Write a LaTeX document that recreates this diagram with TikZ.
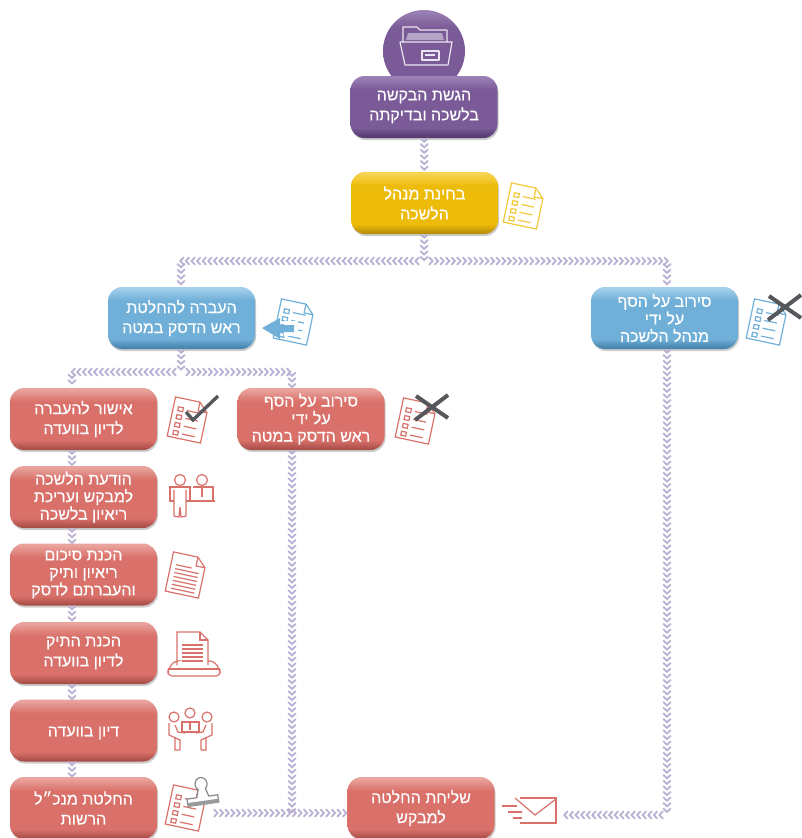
\documentclass[tikz,border=0pt]{standalone}
\usepackage{fontspec}
\newfontfamily\hebfont[Script=Hebrew,FakeBold=0.35]{Liberation Sans}
\TeXXeTstate=1
\usetikzlibrary{decorations.markings,shadows}
\newcommand{\rl}[1]{\beginR #1\endR}
\newcommand{\bevel}[4]{\pgfdeclareverticalshading{#1}{100bp}{color(0bp)=(#4); color(26bp)=(#4); color(33bp)=(#3); color(64bp)=(#3); color(74bp)=(#2); color(100bp)=(#2)}}
\newcommand{\docframe}{
    \draw (-17,-20) -- (8,-20) -- (17,-11) -- (17,20) -- (-17,20) -- cycle;
    \draw (8,-20) -- (8,-11) -- (17,-11);}
\definecolor{purplebase}{HTML}{7A5A97}
\definecolor{purplelight}{HTML}{9A80B3}
\definecolor{purpledark}{HTML}{56396F}
\definecolor{yellowbase}{HTML}{EDBB0A}
\definecolor{yellowlight}{HTML}{F5D552}
\definecolor{yellowdark}{HTML}{B98F05}
\definecolor{bluebase}{HTML}{6FAFD8}
\definecolor{bluelight}{HTML}{A3CFEA}
\definecolor{bluedark}{HTML}{4683AC}
\definecolor{redbase}{HTML}{D9716A}
\definecolor{redlight}{HTML}{EAA49E}
\definecolor{reddark}{HTML}{AA4E48}
\definecolor{chevcolor}{HTML}{B9B0D3}
\definecolor{markcolor}{HTML}{55575A}
\bevel{purpleshade}{purplelight}{purplebase}{purpledark}
\bevel{yellowshade}{yellowlight}{yellowbase}{yellowdark}
\bevel{blueshade}{bluelight}{bluebase}{bluedark}
\bevel{redshade}{redlight}{redbase}{reddark}
\tikzset{
  box/.style={rounded corners=14pt,minimum width=147pt,minimum height=62pt,inner sep=0pt,align=center,text=white,
    font=\hebfont\fontsize{16}{20}\selectfont,execute at begin node={\rule{0pt}{14.5pt}},
    drop shadow={shadow xshift=1pt,shadow yshift=-2pt,opacity=.2,fill=black}},
  tight/.style={font=\hebfont\fontsize{16}{17.5}\selectfont},
  purplebox/.style={box,shading=purpleshade},
  yellowbox/.style={box,shading=yellowshade},
  bluebox/.style={box,shading=blueshade},
  redbox/.style={box,shading=redshade},
  chev/.style={decoration={markings,mark=between positions 2pt and -1pt step 5.6pt with {
    \draw[chevcolor,line width=1.8pt] (-2,-3.8) -- (1.5,0) -- (-2,3.8);}},decorate},
  iconred/.style={color=redbase,line width=1.2pt},
  iconblue/.style={color=bluebase,line width=1.2pt},
  iconyellow/.style={color=yellowbase!80!white,line width=1.2pt},
  pics/listdoc/.style={code={
    \docframe
    \foreach \yy in {-9,-1,7,15} {
      \draw (-12,\yy-2) rectangle (-7,\yy+2);
      \draw (-3,\yy) -- (10,\yy);}}},
  pics/textdoc/.style={code={
    \docframe
    \foreach \yy in {-4,0,4,8,12,16}
      \draw (-12,\yy) -- (12,\yy);
    \draw (-12,-8) -- (4,-8);}},
  pics/crossmark/.style={code={
    \draw[markcolor,line width=4pt] (-16,-11) -- (16,11);
    \draw[markcolor,line width=4pt] (16,-12) -- (-17,13);}}
}
\begin{document}
\begin{tikzpicture}[x=1pt,y=-1pt]
\useasboundingbox (0,0) rectangle (802,838);
\node[circle,minimum size=82pt,inner sep=0pt,shading=purpleshade] (ball) at (424,51) {};
\node[purplebox] (submit) at (424,107) {\rl{הגשת הבקשה}\\\rl{בלשכה ובדיקתה}};
\node[yellowbox] (review) at (424.5,203) {\rl{בחינת מנהל}\\\rl{הלשכה}};
\node[bluebox] (passon) at (181.5,318) {\rl{העברה להחלטת}\\\rl{ראש הדסק במטה}};
\node[bluebox,tight] (refuseA) at (664.5,318) {\rl{סירוב על הסף}\\\rl{על ידי}\\\rl{מנהל הלשכה}};
\node[redbox] (approve) at (83.5,419) {\rl{אישור להעברה}\\\rl{לדיון בוועדה}};
\node[redbox,tight] (refuseB) at (311,419) {\rl{סירוב על הסף}\\\rl{על ידי}\\\rl{ראש הדסק במטה}};
\node[redbox,tight] (notify) at (83.5,497) {\rl{הודעת הלשכה}\\\rl{למבקש ועריכת}\\\rl{ריאיון בלשכה}};
\node[redbox,tight] (summary) at (83.5,574.5) {\rl{הכנת סיכום}\\\rl{ריאיון ותיק}\\\rl{והעברתם לדסק}};
\node[redbox] (file) at (83.5,653) {\rl{הכנת התיק}\\\rl{לדיון בוועדה}};
\node[redbox] (meeting) at (83.5,730.5) {\rl{דיון בוועדה}};
\node[redbox] (ruling) at (83.5,808) {\rl{החלטת מנכ״ל}\\\rl{הרשות}};
\node[redbox] (send) at (421,808) {\rl{שליחת החלטה}\\\rl{למבקש}};
\coordinate (forkA) at (424,262);
\coordinate (forkAleft) at (419,261);
\coordinate (forkAright) at (429,261);
\coordinate (cornerL) at (181,261);
\coordinate (cornerR) at (667,261);
\coordinate (forkB) at (181,373);
\coordinate (forkBleft) at (176,372);
\coordinate (forkBright) at (186,372);
\coordinate (cornerC) at (72,372);
\coordinate (cornerD) at (292,372);
\coordinate (stampE) at (214,813);
\coordinate (mailE) at (561,815);
\coordinate (cornerF) at (667,815);
\path[chev] (submit) -- (review);
\path[chev] (review) -- (forkA);
\path[chev] (forkAleft) -- (cornerL) -- (cornerL |- passon.north);
\path[chev] (forkAright) -- (cornerR) -- (cornerR |- refuseA.north);
\path[chev] (passon) -- (forkB);
\path[chev] (forkBleft) -- (cornerC) -- (cornerC |- approve.north);
\path[chev] (forkBright) -- (cornerD) -- (cornerD |- refuseB.north);
\foreach \a/\b in {approve/notify,notify/summary,summary/file,file/meeting,meeting/ruling}
  \path[chev] (\a.south -| cornerC) -- (\b.north -| cornerC);
\path[chev] (refuseA.south -| cornerR) -- (cornerF);
\path[chev] (cornerF) ++(-4,0) -- (mailE);
\path[chev] (refuseB.south -| cornerD) -- (cornerD |- stampE);
\path[chev] (stampE) -- (send.west |- stampE);
\begin{scope}[white!85!purplebase,line width=1.2pt,line join=round]
\draw (403,42) -- (403,27) -- (417,27) -- (420,30) -- (447,30) -- (447,42);
\fill[white!45!purplebase] (406,40) -- (408,33) -- (442,33) -- (444,40) -- cycle;
\draw (400,42) -- (452,42) -- (448,65) -- (405,65) -- cycle;
\draw (422,51) rectangle (439,60);
\draw (425,55) -- (435,55);
\end{scope}
\pic[iconyellow,rotate=-12] at (524,206) {listdoc};
\pic[iconblue,rotate=-12] at (294,322) {listdoc};
\fill[white] (284,321) rectangle (298,336);
\fill[bluebase] (262,328) -- (280,318) -- (280,325) -- (294,325) -- (294,332) -- (280,332) -- (280,339) -- cycle;
\pic[iconblue,rotate=-12] at (767,322) {listdoc};
\pic at (785,307) {crossmark};
\pic[iconred,rotate=-12] at (188,420) {listdoc};
\draw[markcolor,line width=3.4pt] (186,412) -- (193,420) -- (218,396);
\pic[iconred,rotate=-12] at (416,421) {listdoc};
\pic at (432,407) {crossmark};
\begin{scope}[iconred]
\draw (180,480) circle (5.5);
\draw (202,480) circle (5.5);
\draw (170,501) -- (170,487) -- (190,487) -- (190,501) -- cycle;
\draw[fill=white] (174,490) -- (174,516) -- (179,517) -- (180,507) -- (181,517) -- (186,516) -- (186,490);
\draw (193,487) -- (213,487) -- (213,501) -- (190,501) (213,501) -- (215,501);
\draw[line width=2pt] (202,487) -- (202,497);
\end{scope}
\pic[iconred,rotate=-12] at (186,575) {textdoc};
\begin{scope}[iconred]
\draw (177,665) -- (177,632) -- (200,632) -- (208,640) -- (208,665);
\draw (200,632) -- (200,640) -- (208,640);
\foreach \yy in {645,649,653,657,661}
  \draw (182,\yy) -- (203,\yy);
\draw[rounded corners=4pt] (177,661) -- (174,661) -- (168,670) -- (168,676) -- (220,676) -- (220,670) -- (214,661) -- (208,661);
\draw (168,669) -- (220,669);
\foreach \xx/\yy in {174/717,190/713,207/717} \draw (\xx,\yy) circle (5);
\draw (169,723) -- (169,735) -- (180,740) -- (180,750) (175,725) -- (178,732) -- (185,733) (175,737) -- (175,750) -- (180,750);
\draw (212,723) -- (212,735) -- (201,740) -- (201,750) (206,725) -- (203,732) -- (196,733) (206,737) -- (206,750) -- (201,750);
\draw (182,722) -- (199,722) -- (199,732) -- (182,732) -- cycle;
\draw (190,722) -- (190,730);
\end{scope}
\pic[iconred,rotate=-12] at (186,808) {listdoc};
\begin{scope}[rotate around={8:(202,798)},markcolor!70!white,line width=1.2pt]
\draw[fill=white] (199,790) -- (197,797) -- (187,797) -- (187,804) -- (218,804) -- (218,797) -- (209,797) -- (207,790) -- cycle;
\draw[fill=white] (203,784) ellipse (6 and 6.5);
\fill[white] (200,788) rectangle (206,792);
\fill[markcolor!60!white] (187,801) rectangle (218,805);
\end{scope}
\begin{scope}[iconred]
\draw (520,798) -- (556,798) -- (556,823) -- (520,823);
\draw (515,798) -- (535,815) -- (556,799);
\draw (502,806) -- (517,806) (508,812) -- (522,812) (513,818) -- (522,818);
\end{scope}
\end{tikzpicture}
\end{document}
